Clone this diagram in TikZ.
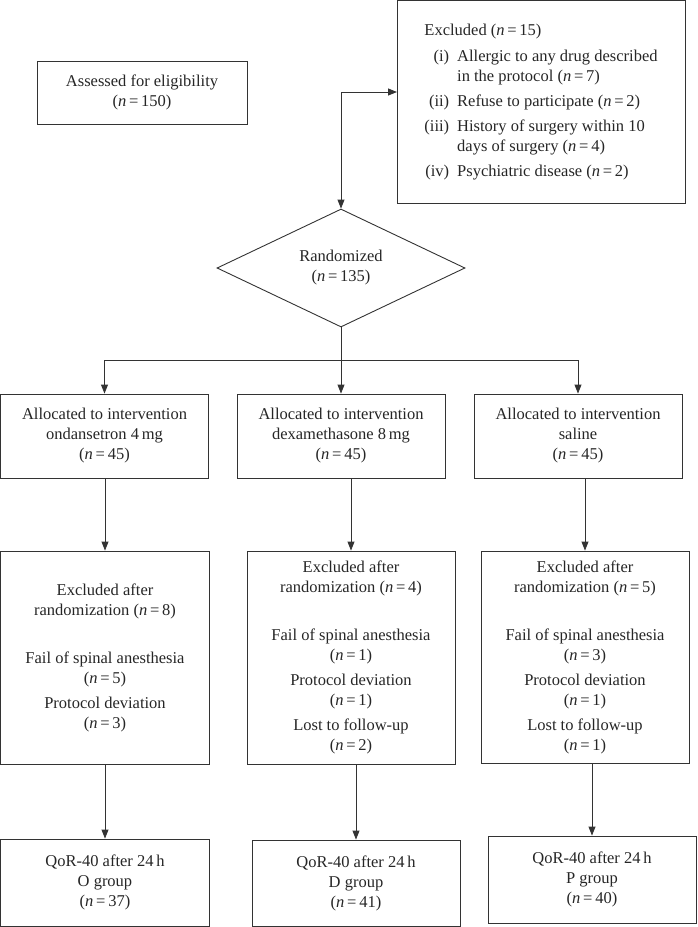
\documentclass[tikz,border=0pt]{standalone}
\usepackage{fontspec}
\setmainfont{Liberation Serif}
\usetikzlibrary{shapes.geometric,arrows.meta,calc}
\newcommand{\nval}[1]{(\textit{n}\,=\,#1)}
\begin{document}
\begin{tikzpicture}[x=1pt,y=-1pt,
  txt/.style={text=black!85,font=\fontsize{16.5}{20}\selectfont},
  box/.style={txt,draw=black!80,line width=0.9pt,rectangle,inner sep=0pt,align=center},
  arr/.style={draw=black!80,line width=0.9pt,-{Triangle[length=9pt,width=7pt]}},
  dbl/.style={draw=black!80,line width=0.9pt,{Triangle[length=9pt,width=7pt]}-{Triangle[length=9pt,width=7pt]}},
  ln/.style={draw=black!80,line width=0.9pt}]
\useasboundingbox (0,0) rectangle (697,927);

\node[box,minimum width=210pt,minimum height=63pt] (assess) at (142,92.5)
  {Assessed for eligibility\\\nval{150}};

\node[box,minimum width=288pt,minimum height=202.5pt] (excl) at (541,101.75)
  {\begin{tabular}{@{}r@{\hspace{8pt}}l@{}}
   \multicolumn{2}{@{}l@{}}{Excluded \nval{15}}\\[6pt]
   (i) & Allergic to any drug described\\
       & in the protocol \nval{7}\\[5pt]
   (ii) & Refuse to participate \nval{2}\\[5pt]
   (iii) & History of surgery within 10\\
         & days of surgery \nval{4}\\[5pt]
   (iv) & Psychiatric disease \nval{2}
   \end{tabular}};
\coordinate (exin) at (397,92);

\node[box,diamond,aspect=2.1,minimum width=248pt,minimum height=118pt] (rand) at (341,268)
  {Randomized\\\nval{135}};

\node[box,minimum width=208pt,minimum height=84pt] (a1) at (104.5,436)
  {Allocated to intervention\\ondansetron 4\,mg\\\nval{45}};
\node[box,minimum width=208pt,minimum height=84pt] (a2) at (341,436)
  {Allocated to intervention\\dexamethasone 8\,mg\\\nval{45}};
\node[box,minimum width=208pt,minimum height=84pt] (a3) at (578,436)
  {Allocated to intervention\\saline\\\nval{45}};

\node[box,minimum width=209pt,minimum height=213pt] (b1) at (105,657.5)
  {Excluded after\\randomization \nval{8}\\[28pt]Fail of spinal anesthesia\\\nval{5}\\[5pt]Protocol deviation\\\nval{3}};
\node[box,minimum width=208pt,minimum height=213pt] (b2) at (351,657.5)
  {Excluded after\\randomization \nval{4}\\[28pt]Fail of spinal anesthesia\\\nval{1}\\[5pt]Protocol deviation\\\nval{1}\\[5pt]Lost to follow-up\\\nval{2}};
\node[box,minimum width=208pt,minimum height=212pt] (b3) at (585,657)
  {Excluded after\\randomization \nval{5}\\[28pt]Fail of spinal anesthesia\\\nval{3}\\[5pt]Protocol deviation\\\nval{1}\\[5pt]Lost to follow-up\\\nval{1}};

\node[box,minimum width=209pt,minimum height=87pt] (c1) at (105,882.5)
  {QoR-40 after 24\,h\\O group\\\nval{37}};
\node[box,minimum width=208pt,minimum height=86pt] (c2) at (356,883)
  {QoR-40 after 24\,h\\D group\\\nval{41}};
\node[box,minimum width=208pt,minimum height=87pt] (c3) at (592,879.5)
  {QoR-40 after 24\,h\\P group\\\nval{40}};

\draw[dbl] (rand.north) |- (exin);
\coordinate (br) at (341,360);
\draw[ln] (rand.south) -- (br);
\draw[arr] (br) -| (a1.north);
\draw[arr] (br) -- (a2.north);
\draw[arr] (br) -| (a3.north);

\draw[arr] (a1.south -| b1.north) -- (b1.north);
\draw[arr] (a2.south -| b2.north) -- (b2.north);
\draw[arr] (a3.south -| b3.north) -- (b3.north);

\draw[arr] (b1.south -| c1.north) -- (c1.north);
\draw[arr] (b2.south -| c2.north) -- (c2.north);
\draw[arr] (b3.south -| c3.north) -- (c3.north);
\end{tikzpicture}
\end{document}
